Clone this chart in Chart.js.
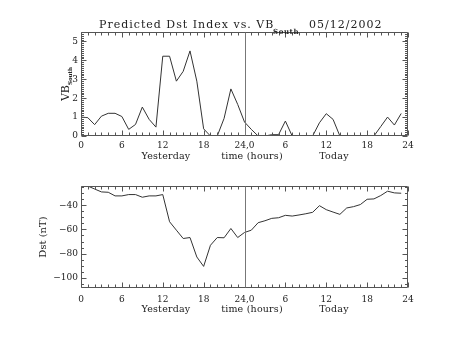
<!DOCTYPE html>
<html>
<head>
<meta charset="utf-8">
<script src="https://cdn.jsdelivr.net/npm/chart.js@4"></script>
<style>
  body { margin: 0; background: #fff; }
  #wrap { position: relative; width: 453px; height: 340px; font-family: "DejaVu Serif", serif; color: #222; }
  canvas { position: absolute; left: 0; }
  .t { position: absolute; white-space: nowrap; line-height: 1; }
  .c { transform: translateX(-50%); font-size: 9.5px; letter-spacing: 0.2px; }
  .r { transform: translate(-50%, -50%) rotate(-90deg); }
</style>
</head>
<body>
<div id="wrap">
  <canvas id="vbChart" width="453" height="170" style="top:0"></canvas>
  <canvas id="dstChart" width="453" height="170" style="top:170px"></canvas>

  <div class="t" style="left:99px;top:19px;font-size:11px;letter-spacing:1px">Predicted Dst Index vs. VB</div>
  <div class="t" style="left:273px;top:28px;font-size:7px;font-weight:bold;letter-spacing:0.6px">South</div>
  <div class="t" style="left:309px;top:19px;font-size:11px;letter-spacing:1px">05/12/2002</div>

  <div class="t r" style="left:64px;top:84px"><span style="font-size:11px">VB</span><span style="font-size:5.5px;font-weight:bold;position:relative;top:2.7px">South</span></div>
  <div class="t r" style="left:43px;top:237px;font-size:10px">Dst (nT)</div>

  <div class="t c" style="left:166px;top:151px">Yesterday</div>
  <div class="t c" style="left:252px;top:151px">time (hours)</div>
  <div class="t c" style="left:334px;top:151px">Today</div>

  <div class="t c" style="left:166px;top:304px">Yesterday</div>
  <div class="t c" style="left:252px;top:304px">time (hours)</div>
  <div class="t c" style="left:334px;top:304px">Today</div>
</div>

<script>
// hours since start of yesterday
const hours = [0, 1, 2, 3, 4, 5, 6, 7, 8, 9, 10, 11, 12, 13, 14, 15, 16, 17, 18, 19, 20, 21, 22, 23,
               24, 25, 26, 27, 28, 29, 30, 31, 32, 33, 34, 35, 36, 37, 38, 39, 40, 41, 42, 43, 44, 45, 46, 47];

const vbSouth = [1.0, 0.97, 0.6, 1.05, 1.2, 1.2, 1.03, 0.35, 0.61, 1.53, 0.88, 0.47,
                 4.22, 4.22, 2.9, 3.42, 4.5, 2.9, 0.38, 0, 0, 0.93, 2.49, 1.67,
                 0.74, 0.35, 0, 0, 0.07, 0.07, 0.79, 0, 0, 0, 0, 0.7,
                 1.18, 0.88, 0, 0, 0, 0, 0, 0, 0.5, 1.0, 0.58, 1.19];

const dst = [-21, -24, -26.5, -28.9, -29.2, -32.2, -32.2, -31.1, -31.1, -33.3, -32.2, -32.2,
             -31.1, -53.6, -60.6, -67.5, -66.7, -82.8, -90.6, -73.1, -66.7, -66.9, -59.2, -66.7,
             -62.5, -60.6, -54.4, -52.8, -50.8, -50.3, -48.3, -48.9, -48, -47, -45.8, -40.3,
             -43.6, -45.6, -47.5, -42.2, -41.1, -39.4, -35, -34.7, -31.9, -28.3, -29.7, -30];

const xTicks = [0, 6, 12, 18, 24, 30, 36, 42, 48];
const xTickLabels = ['0', '6', '12', '18', '24,0', '6', '12', '18', '24'];
const vbTicks = [0, 1, 2, 3, 4, 5];
const dstTicks = [-100, -80, -60, -40];
const dayBreak = 24;

Chart.defaults.font.family = '"DejaVu Serif", serif';
Chart.defaults.font.size = 9;
Chart.defaults.color = '#222';

// IDL style box: inward ticks on all four sides plus the day divider
const idlFrame = {
  id: 'idlFrame',
  afterDatasetsDraw(chart, args, o) {
    const { ctx, chartArea: a, scales: { x, y } } = chart;
    const L = Math.round(a.left) + 0.5, R = Math.round(a.right) - 0.5;
    const T = Math.round(a.top) + 0.5, B = Math.round(a.bottom) - 0.5;
    const isMajor = (v, list) => list.some(t => Math.abs(t - v) < 1e-6);
    ctx.save();
    ctx.lineWidth = 1;
    ctx.strokeStyle = '#555';
    ctx.beginPath();
    ctx.rect(L, T, R - L, B - T);

    let start = Math.ceil(x.min / o.xMinor - 1e-9);
    for (let i = start; i * o.xMinor <= x.max + 1e-9; i++) {
      const v = i * o.xMinor;
      const px = Math.round(x.getPixelForValue(v)) + 0.5;
      const len = isMajor(v, o.xMajor) ? 5 : 3;
      ctx.moveTo(px, B); ctx.lineTo(px, B - len);
      ctx.moveTo(px, T); ctx.lineTo(px, T + len);
    }
    start = Math.ceil(y.min / o.yMinor - 1e-9);
    for (let i = start; i * o.yMinor <= y.max + 1e-9; i++) {
      const v = i * o.yMinor;
      const py = Math.round(y.getPixelForValue(v)) + 0.5;
      const len = isMajor(v, o.yMajor) ? 5 : 2.5;
      ctx.moveTo(L, py); ctx.lineTo(L + len, py);
      ctx.moveTo(R, py); ctx.lineTo(R - len, py);
    }
    ctx.stroke();

    const dx = Math.round(x.getPixelForValue(dayBreak)) + 0.5;
    ctx.strokeStyle = '#777';
    ctx.beginPath();
    ctx.moveTo(dx, T); ctx.lineTo(dx, B);
    ctx.stroke();
    ctx.restore();
  }
};

function panel(id, values, yMin, yMax, yTicks, yMinor, pad, xPad) {
  return new Chart(document.getElementById(id), {
    type: 'line',
    data: {
      datasets: [{
        data: hours.map((h, i) => ({ x: h, y: values[i] })),
        borderColor: '#333',
        borderWidth: 1,
        pointRadius: 0,
        tension: 0
      }]
    },
    options: {
      responsive: false,
      animation: false,
      layout: { padding: pad },
      plugins: {
        legend: { display: false },
        tooltip: { enabled: false },
        idlFrame: { xMajor: xTicks, xMinor: 1, yMajor: yTicks, yMinor: yMinor }
      },
      scales: {
        x: {
          type: 'linear', min: 0, max: 48,
          grid: { display: false, drawTicks: false },
          border: { display: false },
          afterBuildTicks: s => { s.ticks = xTicks.map(v => ({ value: v })); },
          afterFit: s => { s.height = 20; },
          ticks: {
            padding: xPad, autoSkip: false, maxRotation: 0,
            callback: v => xTickLabels[xTicks.indexOf(v)]
          }
        },
        y: {
          min: yMin, max: yMax,
          grid: { display: false, drawTicks: false },
          border: { display: false },
          afterBuildTicks: s => { s.ticks = yTicks.map(v => ({ value: v })); },
          afterFit: s => { s.width = 81; },
          ticks: {
            padding: 3,
            callback: v => String(v).replace('-', '\u2212')
          }
        }
      }
    },
    plugins: [idlFrame]
  });
}

panel('vbChart', vbSouth, 0, 5.5, vbTicks, 0.1, { left: 0, right: 45, top: 32, bottom: 14 }, 4);
panel('dstChart', dst, -108.5, -24, dstTicks, 5, { left: 0, right: 45, top: 16, bottom: 32 }, 6);
</script>
</body>
</html>
